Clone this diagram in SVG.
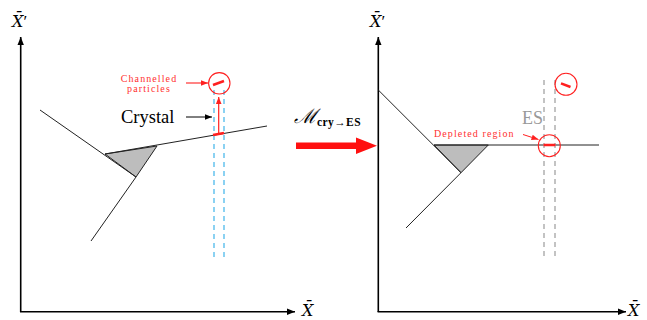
<svg xmlns="http://www.w3.org/2000/svg" width="647" height="320" viewBox="0 0 647 320">
<defs>
<style>
.axis{stroke:#000;stroke-width:1.6;fill:none}
.line{stroke:#222;stroke-width:1;fill:none}
.tri{fill:#bdbdbd;stroke:#222;stroke-width:1}
.blue{stroke:#3fb4ea;stroke-width:1.2;stroke-dasharray:5,4;fill:none}
.grey{stroke:#aaa;stroke-width:1.4;stroke-dasharray:5,4;fill:none}
.red{stroke:#ff2020;fill:none}
.lbl{font-family:"DejaVu Serif","Liberation Serif",serif;font-style:italic;font-size:16px;fill:#000}
.pr{font-family:"Liberation Serif",serif;font-style:normal;font-size:17px}
.rtxt{font-family:"Liberation Serif",serif;font-size:10px;fill:#ff3030;letter-spacing:1.1px}
.big{font-family:"Liberation Serif",serif;font-size:18.5px;fill:#000}
</style>
<marker id="ah" markerWidth="8" markerHeight="8" refX="8" refY="4" orient="auto" markerUnits="userSpaceOnUse"><path d="M0,0.8 L8,4 L0,7.2 Z" fill="#000"/></marker>
<marker id="ahr" markerWidth="7" markerHeight="7" refX="7" refY="3.5" orient="auto" markerUnits="userSpaceOnUse"><path d="M0,0.7 L7,3.5 L0,6.3 Z" fill="#ff2020"/></marker>
<marker id="ahb" markerWidth="7" markerHeight="7" refX="7" refY="3.5" orient="auto" markerUnits="userSpaceOnUse"><path d="M0,0.7 L7,3.5 L0,6.3 Z" fill="#000"/></marker>
</defs>

<g id="left-axes">
<line class="axis" x1="20.7" y1="312" x2="20.7" y2="37" marker-end="url(#ah)"/>
<line class="axis" x1="20" y1="311.7" x2="295" y2="311.7" marker-end="url(#ah)"/>
<text class="lbl" x="12" y="27">X̄<tspan class="pr">′</tspan></text>
<text class="lbl" x="302" y="316">X̄</text>
</g>

<g id="left-crystal">
<polygon class="tri" points="105,154 157,146 136,177"/>
<line class="line" x1="40" y1="110" x2="136" y2="177"/>
<line class="line" x1="105" y1="154" x2="267" y2="126"/>
<line class="line" x1="136" y1="177" x2="91" y2="241"/>
</g>

<g id="left-beam">
<line class="blue" x1="214" y1="90" x2="214" y2="257"/>
<line class="blue" x1="224" y1="90" x2="224" y2="257"/>
<line class="red" x1="213" y1="135" x2="224" y2="133" stroke-width="2.5"/>
<circle class="red" cx="219.3" cy="83.3" r="10.7" stroke-width="1.1"/>
<line class="red" x1="213" y1="85" x2="224" y2="81" stroke-width="2.5"/>
</g>

<g id="left-labels">
<text class="rtxt" x="149" y="82" text-anchor="middle">Channelled</text>
<text class="rtxt" x="149" y="92" text-anchor="middle">particles</text>
<text class="big" x="121" y="123">Crystal</text>
</g>

<g id="connectors">
<line class="red" x1="218.7" y1="133" x2="218.7" y2="97" stroke-width="1.2" marker-end="url(#ahr)"/>
<line class="red" x1="186" y1="83" x2="208" y2="83" stroke-width="1.1" marker-end="url(#ahr)"/>
<line x1="186" y1="117" x2="212" y2="117" stroke="#000" stroke-width="1" marker-end="url(#ahb)"/>
<line class="red" x1="523" y1="134.5" x2="538.5" y2="139.5" stroke-width="1" marker-end="url(#ahr)"/>
</g>

<g id="mapping">
<path d="M296,142.5 L356,142.5 L356,137.5 L377,145.7 L356,154 L356,149 L296,149 Z" fill="#ff1010"/>
<text x="294" y="123" font-family="DejaVu Serif,serif" font-size="20" font-style="italic" fill="#000">ℳ<tspan font-size="11.5" font-style="normal" font-weight="bold" dy="3" font-family="Liberation Serif,serif" letter-spacing="0.4">cry→ES</tspan></text>
</g>

<g id="right-axes">
<line class="axis" x1="378.3" y1="312" x2="378.3" y2="37" marker-end="url(#ah)"/>
<line class="axis" x1="377.6" y1="311.7" x2="626" y2="311.7" marker-end="url(#ah)"/>
<text class="lbl" x="370" y="27">X̄<tspan class="pr">′</tspan></text>
<text class="lbl" x="628" y="316">X̄</text>
</g>

<g id="right-crystal">
<polygon class="tri" points="434,145 488.3,145 461,172.7"/>
<line class="line" x1="378.3" y1="90" x2="461" y2="172.7"/>
<line class="line" x1="434" y1="145" x2="599" y2="145"/>
<line class="line" x1="461" y1="172.7" x2="406" y2="228"/>
</g>

<g id="right-beam">
<line class="grey" x1="544" y1="80" x2="544" y2="257"/>
<line class="grey" x1="555" y1="80" x2="555" y2="257"/>
<line class="red" x1="543.5" y1="145" x2="555.5" y2="145" stroke-width="2.5"/>
<circle class="red" cx="549.3" cy="145.7" r="11" stroke-width="1.1"/>
<circle class="red" cx="566" cy="84.3" r="11" stroke-width="1.1"/>
<line class="red" x1="561" y1="83.3" x2="570.5" y2="87" stroke-width="2.5"/>
</g>

<g id="right-labels">
<text x="522" y="124" font-family="Liberation Serif,serif" font-size="18" fill="#999">ES</text>
<text class="rtxt" x="434" y="137">Depleted region</text>
</g>
</svg>
